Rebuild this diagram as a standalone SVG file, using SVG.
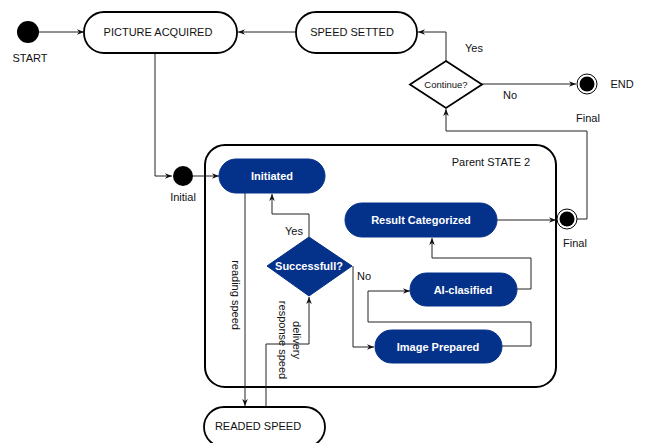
<svg xmlns="http://www.w3.org/2000/svg" width="646" height="443" viewBox="0 0 646 443">
<defs>
<style>
.st{fill:#fff;stroke:#000;stroke-width:1.8}
.bl{fill:#04318a;stroke:#04318a;stroke-width:1}
.t{font-family:"Liberation Sans",Arial,sans-serif;font-size:11px;fill:#111}
.tb{font-family:"Liberation Sans",Arial,sans-serif;font-size:11px;font-weight:bold;fill:#fff}
.c{fill:none;stroke:#222;stroke-width:1}
</style>
<marker id="ar" viewBox="0 0 10 10" refX="10" refY="5" markerWidth="7" markerHeight="7" orient="auto" markerUnits="userSpaceOnUse">
<path d="M0,1 L10,5 L0,9 L3,5 z" fill="#111"/>
</marker>
</defs>
<rect width="646" height="443" fill="#fff"/>

<g id="parent">
<rect x="205" y="145" width="351" height="242" rx="20" fill="none" stroke="#000" stroke-width="2"/>
<text class="t" x="491" y="166" text-anchor="middle">Parent STATE 2</text>
</g>

<g id="connectors">
<line class="c" x1="39" y1="32" x2="84" y2="32" marker-end="url(#ar)"/>
<line class="c" x1="296" y1="32" x2="238" y2="32" marker-end="url(#ar)"/>
<polyline class="c" points="446,61 446,32 418,32" marker-end="url(#ar)"/>
<line class="c" x1="482" y1="84" x2="576" y2="84" marker-end="url(#ar)"/>
<polyline class="c" points="577,219 587,219 587,131 446,131 446,109" marker-end="url(#ar)"/>
<polyline class="c" points="155,53 155,176 172,176" marker-end="url(#ar)"/>
<line class="c" x1="193" y1="176" x2="219" y2="176" marker-end="url(#ar)"/>
<line class="c" x1="497" y1="220" x2="556" y2="220" marker-end="url(#ar)"/>
<polyline class="c" points="517,289 531,289 531,258 432,258 432,238" marker-end="url(#ar)"/>
<polyline class="c" points="502,346 531,346 531,322 368,322 368,291 410,291" marker-end="url(#ar)"/>
<polyline class="c" points="309,237 309,214 272,214 272,194" marker-end="url(#ar)"/>
<polyline class="c" points="353,266 353,347 374,347" marker-end="url(#ar)"/>
<line class="c" x1="245" y1="193" x2="245" y2="406" marker-end="url(#ar)"/>
<polyline class="c" points="266,407 266,344 309,344 309,297" marker-end="url(#ar)"/>
<text class="t" x="474" y="52" text-anchor="middle">Yes</text>
<text class="t" x="510" y="99" text-anchor="middle">No</text>
<text class="t" x="588" y="122" text-anchor="middle">Final</text>
<text class="t" x="294" y="235" text-anchor="middle">Yes</text>
<text class="t" x="364" y="280" text-anchor="middle">No</text>
<text class="t" transform="translate(232,295) rotate(90)" text-anchor="middle">reading speed</text>
<text class="t" transform="translate(293,340) rotate(90)" text-anchor="middle">delivery</text>
<text class="t" transform="translate(279,340) rotate(90)" text-anchor="middle">response speed</text>
</g>

<g id="start">
<circle cx="28" cy="32" r="11" fill="#000"/>
<text class="t" x="30" y="62" text-anchor="middle">START</text>
</g>

<g id="picture-acquired">
<rect class="st" x="84" y="12" width="153" height="41" rx="20"/>
<text class="t" x="158" y="36" text-anchor="middle">PICTURE ACQUIRED</text>
</g>

<g id="speed-setted">
<rect class="st" x="296" y="12" width="121" height="41" rx="20"/>
<text class="t" x="352" y="36" text-anchor="middle">SPEED SETTED</text>
</g>

<g id="continue">
<polygon class="st" points="446,61 482,84.5 446,108 410,84.5"/>
<text x="446" y="88" text-anchor="middle" font-family="Liberation Sans,Arial,sans-serif" font-size="9.5" fill="#111">Continue?</text>
</g>

<g id="end">
<circle cx="587" cy="84" r="10" fill="#fff" stroke="#000" stroke-width="1"/>
<circle cx="587" cy="84" r="7.5" fill="#000"/>
<text class="t" x="622" y="88" text-anchor="middle">END</text>
</g>

<g id="initial">
<circle cx="183" cy="176" r="10" fill="#000"/>
<text class="t" x="183" y="201" text-anchor="middle">Initial</text>
</g>

<g id="initiated">
<rect class="bl" x="219" y="159" width="106" height="34" rx="17"/>
<text class="tb" x="272" y="180" text-anchor="middle">Initiated</text>
</g>

<g id="result-categorized">
<rect class="bl" x="345" y="203" width="152" height="34" rx="17"/>
<text class="tb" x="421" y="224" text-anchor="middle">Result Categorized</text>
</g>

<g id="final">
<circle cx="567" cy="219" r="10" fill="#fff" stroke="#000" stroke-width="1"/>
<circle cx="567" cy="219" r="7.5" fill="#000"/>
<text class="t" x="575" y="247" text-anchor="middle">Final</text>
</g>

<g id="successfull">
<polygon class="bl" points="309,237 352,266 309,296 267,266"/>
<text class="tb" x="309" y="270" text-anchor="middle">Successfull?</text>
</g>

<g id="ai-clasified">
<rect class="bl" x="410" y="273" width="107" height="33" rx="16.5"/>
<text class="tb" x="463" y="294" text-anchor="middle">AI-clasified</text>
</g>

<g id="image-prepared">
<rect class="bl" x="375" y="330" width="127" height="33" rx="16.5"/>
<text class="tb" x="438" y="351" text-anchor="middle">Image Prepared</text>
</g>

<g id="readed-speed">
<rect class="st" x="204" y="407" width="121" height="40" rx="20"/>
<text class="t" x="258" y="430" text-anchor="middle">READED SPEED</text>
</g>
</svg>
